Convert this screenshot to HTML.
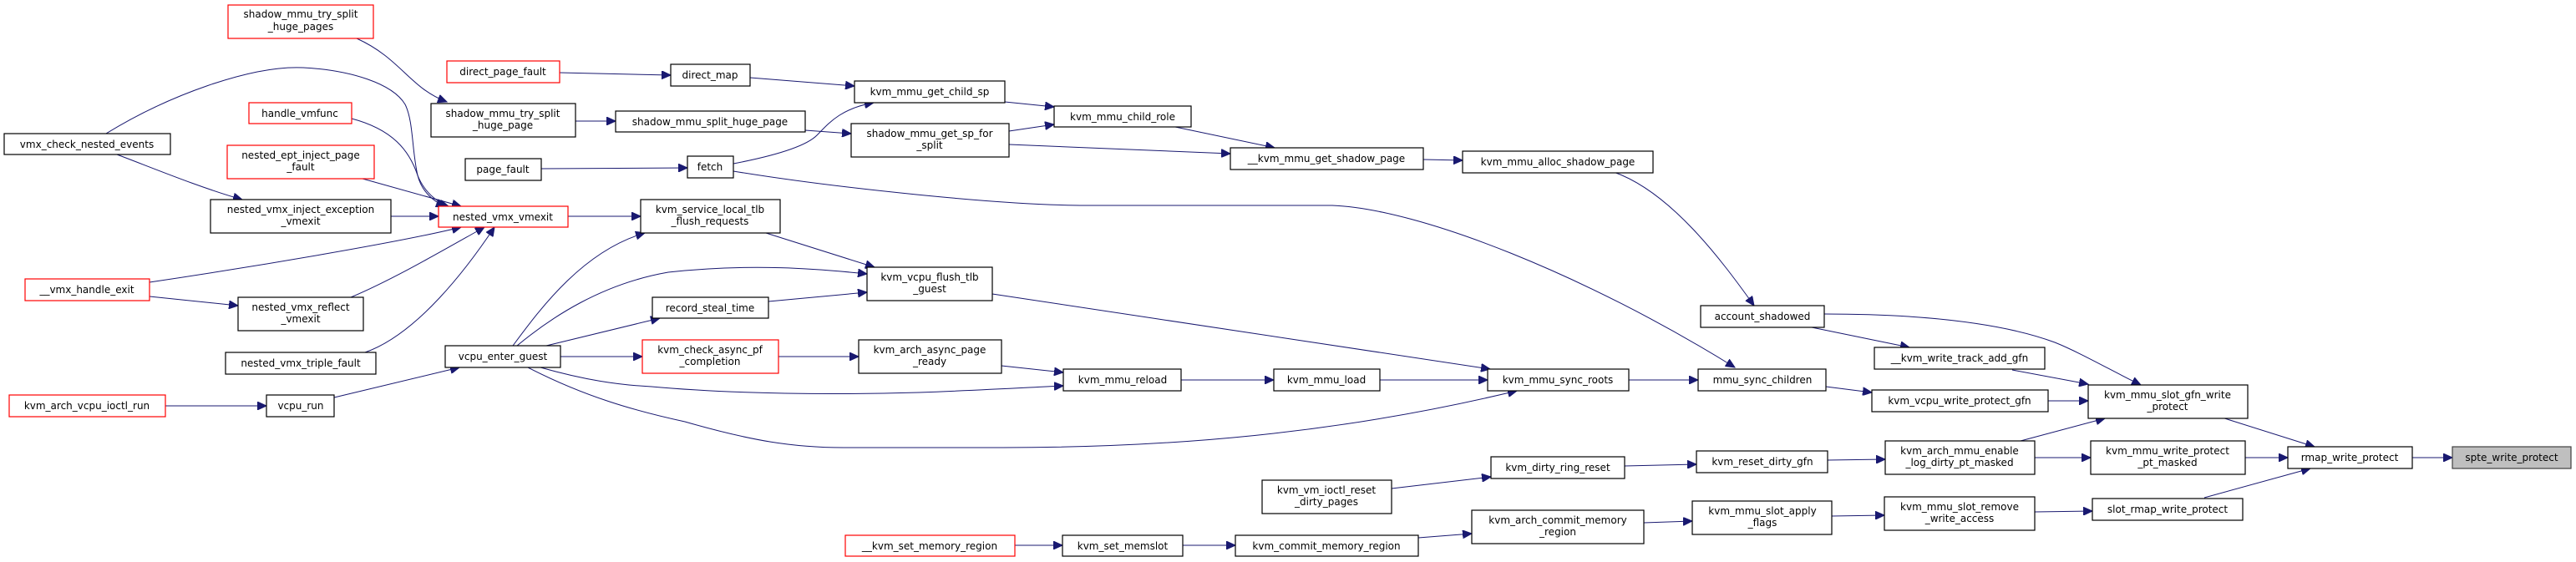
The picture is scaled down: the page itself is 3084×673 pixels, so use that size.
<!DOCTYPE html>
<html><head><meta charset="utf-8"><style>
html,body{margin:0;padding:0;background:#fff;}
svg{display:block;}
text{font-family:"DejaVu Sans","Liberation Sans",sans-serif;font-size:12px;fill:#000;text-anchor:middle;}
.n{fill:#fff;stroke:#000;stroke-width:1.2;}
.r{fill:#fff;stroke:#ff0000;stroke-width:1.2;}
.g{fill:#bfbfbf;stroke:#404040;stroke-width:1.2;}
.e{fill:none;stroke:#191970;stroke-width:1;marker-end:url(#a);}
</style></head><body>
<svg width="3084" height="673" viewBox="0 0 3084 673" xmlns="http://www.w3.org/2000/svg">
<defs><marker id="a" markerUnits="userSpaceOnUse" markerWidth="12" markerHeight="10" refX="11" refY="5" orient="auto"><path d="M0,0 L11,5 L0,10 z" fill="#191970" stroke="#191970"/></marker></defs>
<g>
<path class="e" d="M427,46 C480,70 490,105 535,122"/>
<path class="e" d="M670,87 L803,90"/>
<path class="e" d="M898,93 L1023,103"/>
<path class="e" d="M689,145 L737,145"/>
<path class="e" d="M964,156 L1019,160"/>
<path class="e" d="M648,202 L823,201"/>
<path class="e" d="M878,196 C930,186 965,175 978,162 C990,150 1005,130 1046,123"/>
<path class="e" d="M878,205 C1000,225 1200,246 1300,246 L1595,246 C1700,250 1900,330 2077,440"/>
<path class="e" d="M1203,122 L1262,128"/>
<path class="e" d="M1208,157 L1262,149"/>
<path class="e" d="M1208,173 L1473,184"/>
<path class="e" d="M1407,152 L1526,177"/>
<path class="e" d="M1704,191 L1751,192"/>
<path class="e" d="M1932,206 C2000,230 2060,310 2100,366"/>
<path class="e" d="M2184,376 C2340,376 2420,395 2460,410 C2490,422 2530,445 2563,461"/>
<path class="e" d="M2169,392 L2286,416"/>
<path class="e" d="M2409,443 L2500,460"/>
<path class="e" d="M2186,463 L2241,470"/>
<path class="e" d="M2452,480 L2500,480"/>
<path class="e" d="M2419,528 L2520,501"/>
<path class="e" d="M2436,548 L2503,548"/>
<path class="e" d="M2660,500 L2771,535"/>
<path class="e" d="M2688,548 L2739,548"/>
<path class="e" d="M2639,596 L2766,561"/>
<path class="e" d="M2888,548 L2936,548"/>
<path class="e" d="M2436,613 L2505,612"/>
<path class="e" d="M2193,618 L2256,617"/>
<path class="e" d="M1968,626 L2026,624"/>
<path class="e" d="M1698,644 L1762,639"/>
<path class="e" d="M1416,653 L1479,653"/>
<path class="e" d="M1215,653 L1272,653"/>
<path class="e" d="M1666,585 L1785,571"/>
<path class="e" d="M1945,558 L2031,556"/>
<path class="e" d="M2188,551 L2257,550"/>
<path class="e" d="M1950,455 L2033,455"/>
<path class="e" d="M1652,455 L1781,455"/>
<path class="e" d="M1414,455 L1525,455"/>
<path class="e" d="M1188,352 L1784,442"/>
<path class="e" d="M632,440 C700,475 760,492 820,505 C900,528 950,536 1010,536 L1200,536 C1400,536 1600,520 1816,468"/>
<path class="e" d="M647,440 C700,455 740,461 780,463 C880,472 1000,473 1100,470 C1180,467 1230,464 1273,462"/>
<path class="e" d="M1199,438 L1273,446"/>
<path class="e" d="M932,427 L1028,427"/>
<path class="e" d="M671,427 L769,427"/>
<path class="e" d="M654,414 L790,381"/>
<path class="e" d="M619,414 C660,380 720,340 800,326 C900,315 980,322 1038,328"/>
<path class="e" d="M614,414 C650,365 700,300 772,279"/>
<path class="e" d="M920,361 L1038,350"/>
<path class="e" d="M917,279 L1047,320"/>
<path class="e" d="M680,259 L767,259"/>
<path class="e" d="M437,422 C500,400 560,320 592,272"/>
<path class="e" d="M420,356 C470,335 530,300 580,272"/>
<path class="e" d="M179,338 C300,320 480,290 552,272"/>
<path class="e" d="M179,355 L285,366"/>
<path class="e" d="M468,259 L525,259"/>
<path class="e" d="M434,214 L552,247"/>
<path class="e" d="M421,142 C470,155 490,180 500,210 C510,235 530,245 537,247"/>
<path class="e" d="M127,160 C200,115 300,78 363,81 C420,84 470,100 485,125 C495,145 493,180 500,210 C505,230 520,242 533,247"/>
<path class="e" d="M140,185 C180,200 240,225 290,239"/>
<path class="e" d="M198,486 L319,486"/>
<path class="e" d="M400,476 L550,440"/>
</g>
<g>
<rect class="r" x="273" y="6" width="174" height="40"/><text x="360" y="21">shadow_mmu_try_split</text><text x="360" y="36">_huge_pages</text>
<rect class="r" x="535" y="73" width="135" height="26"/><text x="602" y="90">direct_page_fault</text>
<rect class="n" x="5" y="160" width="199" height="25"/><text x="104" y="177">vmx_check_nested_events</text>
<rect class="r" x="298" y="123" width="123" height="25"/><text x="359" y="140">handle_vmfunc</text>
<rect class="n" x="516" y="124" width="173" height="40"/><text x="602" y="140">shadow_mmu_try_split</text><text x="602" y="154">_huge_page</text>
<rect class="r" x="272" y="174" width="176" height="40"/><text x="360" y="190">nested_ept_inject_page</text><text x="360" y="204">_fault</text>
<rect class="n" x="557" y="190" width="91" height="26"/><text x="602" y="207">page_fault</text>
<rect class="n" x="252" y="239" width="216" height="40"/><text x="360" y="255">nested_vmx_inject_exception</text><text x="360" y="269">_vmexit</text>
<rect class="r" x="525" y="247" width="155" height="25"/><text x="602" y="264">nested_vmx_vmexit</text>
<rect class="r" x="30" y="334" width="149" height="26"/><text x="104" y="351">__vmx_handle_exit</text>
<rect class="n" x="285" y="356" width="150" height="40"/><text x="360" y="372">nested_vmx_reflect</text><text x="360" y="386">_vmexit</text>
<rect class="n" x="270" y="422" width="180" height="26"/><text x="360" y="439">nested_vmx_triple_fault</text>
<rect class="n" x="533" y="414" width="138" height="26"/><text x="602" y="431">vcpu_enter_guest</text>
<rect class="r" x="11" y="473" width="187" height="26"/><text x="104" y="490">kvm_arch_vcpu_ioctl_run</text>
<rect class="n" x="319" y="473" width="81" height="26"/><text x="360" y="490">vcpu_run</text>
<rect class="n" x="803" y="77" width="95" height="26"/><text x="850" y="94">direct_map</text>
<rect class="n" x="1023" y="97" width="180" height="26"/><text x="1113" y="114">kvm_mmu_get_child_sp</text>
<rect class="n" x="737" y="133" width="227" height="25"/><text x="850" y="150">shadow_mmu_split_huge_page</text>
<rect class="n" x="1262" y="127" width="164" height="25"/><text x="1344" y="144">kvm_mmu_child_role</text>
<rect class="n" x="1019" y="148" width="189" height="40"/><text x="1113" y="164">shadow_mmu_get_sp_for</text><text x="1113" y="178">_split</text>
<rect class="n" x="1473" y="177" width="231" height="26"/><text x="1588" y="194">__kvm_mmu_get_shadow_page</text>
<rect class="n" x="823" y="187" width="55" height="26"/><text x="850" y="204">fetch</text>
<rect class="n" x="767" y="239" width="167" height="40"/><text x="850" y="255">kvm_service_local_tlb</text><text x="850" y="269">_flush_requests</text>
<rect class="n" x="1038" y="320" width="150" height="40"/><text x="1113" y="336">kvm_vcpu_flush_tlb</text><text x="1113" y="350">_guest</text>
<rect class="n" x="781" y="356" width="139" height="25"/><text x="850" y="373">record_steal_time</text>
<rect class="r" x="769" y="407" width="163" height="40"/><text x="850" y="423">kvm_check_async_pf</text><text x="850" y="437">_completion</text>
<rect class="n" x="1028" y="407" width="171" height="40"/><text x="1113" y="423">kvm_arch_async_page</text><text x="1113" y="437">_ready</text>
<rect class="n" x="1273" y="442" width="141" height="26"/><text x="1344" y="459">kvm_mmu_reload</text>
<rect class="n" x="1511" y="575" width="155" height="40"/><text x="1588" y="591">kvm_vm_ioctl_reset</text><text x="1588" y="605">_dirty_pages</text>
<rect class="r" x="1012" y="641" width="203" height="25"/><text x="1113" y="658">__kvm_set_memory_region</text>
<rect class="n" x="1272" y="641" width="144" height="25"/><text x="1344" y="658">kvm_set_memslot</text>
<rect class="n" x="1479" y="641" width="219" height="25"/><text x="1588" y="658">kvm_commit_memory_region</text>
<rect class="n" x="1751" y="181" width="228" height="26"/><text x="1865" y="198">kvm_mmu_alloc_shadow_page</text>
<rect class="n" x="2036" y="366" width="148" height="26"/><text x="2110" y="383">account_shadowed</text>
<rect class="n" x="1525" y="442" width="127" height="26"/><text x="1588" y="459">kvm_mmu_load</text>
<rect class="n" x="1781" y="442" width="169" height="26"/><text x="1865" y="459">kvm_mmu_sync_roots</text>
<rect class="n" x="2033" y="442" width="153" height="26"/><text x="2110" y="459">mmu_sync_children</text>
<rect class="n" x="2244" y="416" width="204" height="26"/><text x="2346" y="433">__kvm_write_track_add_gfn</text>
<rect class="n" x="2241" y="467" width="211" height="26"/><text x="2346" y="484">kvm_vcpu_write_protect_gfn</text>
<rect class="n" x="1785" y="547" width="160" height="26"/><text x="1865" y="564">kvm_dirty_ring_reset</text>
<rect class="n" x="2031" y="540" width="157" height="26"/><text x="2110" y="557">kvm_reset_dirty_gfn</text>
<rect class="n" x="2257" y="528" width="179" height="40"/><text x="2346" y="544">kvm_arch_mmu_enable</text><text x="2346" y="558">_log_dirty_pt_masked</text>
<rect class="n" x="1762" y="611" width="206" height="40"/><text x="1865" y="627">kvm_arch_commit_memory</text><text x="1865" y="641">_region</text>
<rect class="n" x="2026" y="600" width="167" height="40"/><text x="2110" y="616">kvm_mmu_slot_apply</text><text x="2110" y="630">_flags</text>
<rect class="n" x="2256" y="595" width="180" height="40"/><text x="2346" y="611">kvm_mmu_slot_remove</text><text x="2346" y="625">_write_access</text>
<rect class="n" x="2500" y="461" width="191" height="40"/><text x="2595" y="477">kvm_mmu_slot_gfn_write</text><text x="2595" y="491">_protect</text>
<rect class="n" x="2503" y="528" width="185" height="40"/><text x="2595" y="544">kvm_mmu_write_protect</text><text x="2595" y="558">_pt_masked</text>
<rect class="n" x="2739" y="535" width="149" height="26"/><text x="2813" y="552">rmap_write_protect</text>
<rect class="g" x="2936" y="535" width="142" height="26"/><text x="3007" y="552">spte_write_protect</text>
<rect class="n" x="2505" y="597" width="180" height="26"/><text x="2595" y="614">slot_rmap_write_protect</text>
</g>
</svg>
</body></html>
